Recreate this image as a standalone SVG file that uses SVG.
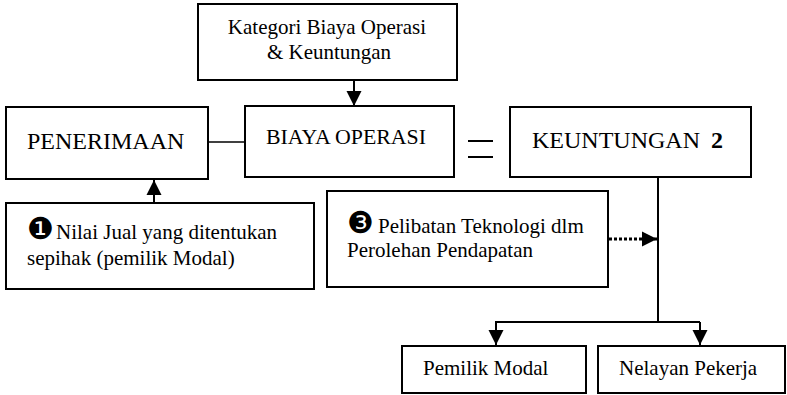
<svg xmlns="http://www.w3.org/2000/svg" width="787" height="395" viewBox="0 0 787 395">
<style>
.box{fill:#fff;stroke:#000;stroke-width:2}
.t{font-family:"Liberation Serif","Times New Roman",serif;font-size:21px;fill:#000}
.tb{font-family:"Liberation Serif","Times New Roman",serif;font-size:24px;fill:#000}
.num{font-family:"DejaVu Sans",sans-serif;font-size:30px}
.ln{stroke:#000;stroke-width:2;fill:none}
</style>
<defs>
<marker id="ah" markerUnits="userSpaceOnUse" markerWidth="16" markerHeight="16" refX="15" refY="8" orient="auto">
<path d="M0,0.5 L15,8 L0,15.5 Z" fill="#000"/>
</marker>
</defs>
<rect width="787" height="395" fill="#fff"/>
<g id="connectors">
<line class="ln" x1="354" y1="80" x2="354" y2="106" marker-end="url(#ah)"/>
<line class="ln" x1="208" y1="142" x2="245" y2="142" style="stroke-width:1.5"/>
<line class="ln" x1="154" y1="203" x2="154" y2="180" marker-end="url(#ah)"/>
<line class="ln" x1="658" y1="177" x2="658" y2="322"/>
<line class="ln" x1="495" y1="322" x2="700" y2="322"/>
<line class="ln" x1="496" y1="322" x2="496" y2="345" marker-end="url(#ah)"/>
<line class="ln" x1="700" y1="322" x2="700" y2="345" marker-end="url(#ah)"/>
<line class="ln" x1="609" y1="239" x2="657" y2="239" style="stroke-width:3;stroke-dasharray:3 2" marker-end="url(#ah)"/>
</g>
<g id="equals">
<line class="ln" x1="468" y1="141" x2="493" y2="141"/>
<line class="ln" x1="468" y1="157" x2="493" y2="157"/>
</g>
<g id="kategori">
<rect class="box" x="198" y="4" width="259" height="76"/>
<text class="t" x="327" y="34" text-anchor="middle">Kategori Biaya Operasi</text>
<text class="t" x="329" y="59" text-anchor="middle">&amp; Keuntungan</text>
</g>
<g id="penerimaan">
<rect class="box" x="6" y="107" width="202" height="72"/>
<text class="tb" x="27" y="149">PENERIMAAN</text>
</g>
<g id="biaya">
<rect class="box" x="245" y="106" width="209" height="71"/>
<text class="t" x="266" y="144" textLength="160" lengthAdjust="spacingAndGlyphs">BIAYA OPERASI</text>
</g>
<g id="keuntungan">
<rect class="box" x="510" y="107" width="241" height="70"/>
<text class="tb" x="532" y="148">KEUNTUNGAN<tspan x="711" font-weight="bold">2</tspan></text>
</g>
<g id="nilai">
<rect class="box" x="6" y="203" width="308" height="86"/>
<text class="t" x="27" y="239"><tspan class="num">❶</tspan><tspan x="56">Nilai Jual yang ditentukan</tspan></text>
<text class="t" x="27" y="265">sepihak (pemilik Modal)</text>
</g>
<g id="pelibatan">
<rect class="box" x="327" y="191" width="281" height="96"/>
<text class="t" x="347" y="233"><tspan class="num">❸</tspan><tspan x="378">Pelibatan Teknologi dlm</tspan></text>
<text class="t" x="347" y="257">Perolehan Pendapatan</text>
</g>
<g id="pemilik">
<rect class="box" x="402" y="346" width="184" height="47"/>
<text class="t" x="423" y="375">Pemilik Modal</text>
</g>
<g id="nelayan">
<rect class="box" x="598" y="346" width="187" height="47"/>
<text class="t" x="619" y="375">Nelayan Pekerja</text>
</g>
</svg>
